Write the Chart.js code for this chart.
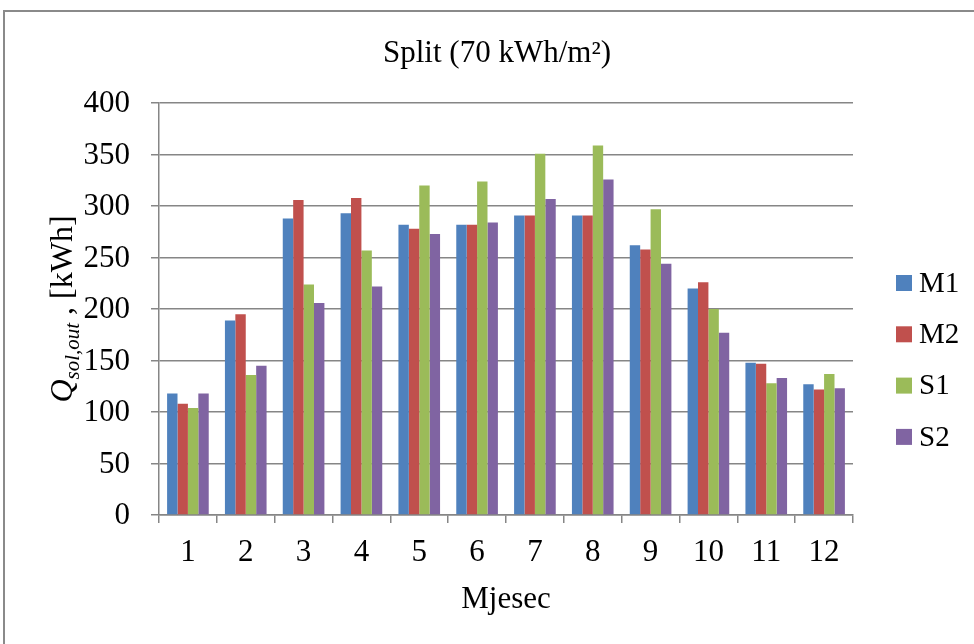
<!DOCTYPE html>
<html>
<head>
<meta charset="utf-8">
<title>Split (70 kWh/m²)</title>
<script src="https://cdn.jsdelivr.net/npm/chart.js@4.4.1/dist/chart.umd.min.js"></script>
<style>
  html, body { margin: 0; padding: 0; background: #fff; overflow: hidden; }
  #okvir { position: absolute; left: 3px; top: 10px; width: 1000px; height: 700px;
           border: 2px solid #8a8a8a; box-sizing: border-box; }
  #omot { position: absolute; left: 0; top: 0; width: 974px; height: 644px; }
</style>
</head>
<body>
<div id="okvir"></div>
<div id="omot"><canvas id="grafSplit"></canvas></div>
<script>
// mjeseci i vrijednosti Q_sol,out [kWh] očitane s grafa
const mjeseci = ['1', '2', '3', '4', '5', '6', '7', '8', '9', '10', '11', '12'];
const M1 = [118, 189, 288, 293, 282, 282, 291, 291, 262, 220, 148, 127];
const M2 = [108, 195, 306, 308, 278, 282, 291, 291, 258, 226, 147, 122];
const S1 = [104, 136, 224, 257, 320, 324, 351, 359, 297, 200, 128, 137];
const S2 = [118, 145, 206, 222, 273, 284, 307, 326, 244, 177, 133, 123];
const yOznake = [0, 50, 100, 150, 200, 250, 300, 350, 400];

const boje = ['#4F81BD', '#C0504D', '#9BBB59', '#8064A2'];
const SIVA = '#868686';
const SERIF = '"Liberation Serif", "Times New Roman", serif';

// naslov y osi s indeksom: Q_sol,out , [kWh]
const yNaslov = {
    id: 'yNaslov',
    afterDraw(chart) {
        const ctx = chart.ctx;
        const dijelovi = [
            { t: 'Q', font: 'italic 32px ' + SERIF, dy: 0 },
            { t: 'sol,out', font: 'italic 21px ' + SERIF, dy: 7 },
            { t: ' , [kWh]', font: '32px ' + SERIF, dy: 0 }
        ];
        ctx.save();
        let ukupno = 0;
        dijelovi.forEach(d => { ctx.font = d.font; d.w = ctx.measureText(d.t).width; ukupno += d.w; });
        ctx.translate(72, 309);
        ctx.rotate(-Math.PI / 2);
        ctx.fillStyle = '#000';
        ctx.textBaseline = 'alphabetic';
        let x = -ukupno / 2;
        dijelovi.forEach(d => { ctx.font = d.font; ctx.fillText(d.t, x, d.dy); x += d.w; });
        ctx.restore();
    }
};

// oznake y osi (crtamo ih sami jer je os uska zbog centriranja naslova)
const yBrojevi = {
    id: 'yBrojevi',
    afterDraw(chart) {
        const ctx = chart.ctx;
        const y = chart.scales.y;
        ctx.save();
        ctx.font = '31px ' + SERIF;
        ctx.fillStyle = '#000';
        ctx.textAlign = 'right';
        ctx.textBaseline = 'middle';
        yOznake.forEach(v => ctx.fillText(String(v), y.right - 29, y.getPixelForValue(v) + 1));
        ctx.restore();
    }
};

// legenda desno, kao u Excelu
const legenda = {
    id: 'legenda',
    afterDraw(chart) {
        const ctx = chart.ctx;
        ctx.save();
        ctx.font = '29px ' + SERIF;
        ctx.textBaseline = 'middle';
        chart.data.datasets.forEach((ds, i) => {
            const y = 283 + i * 51.3;
            ctx.fillStyle = ds.backgroundColor;
            ctx.fillRect(896, y - 8, 16, 16);
            ctx.fillStyle = '#000';
            ctx.fillText(ds.label, 919, y + 1);
        });
        ctx.restore();
    }
};

new Chart(document.getElementById('grafSplit'), {
    type: 'bar',
    data: {
        labels: mjeseci,
        datasets: [
            { label: 'M1', data: M1, backgroundColor: boje[0] },
            { label: 'M2', data: M2, backgroundColor: boje[1] },
            { label: 'S1', data: S1, backgroundColor: boje[2] },
            { label: 'S2', data: S2, backgroundColor: boje[3] }
        ]
    },
    options: {
        responsive: true,
        maintainAspectRatio: false,
        animation: false,
        layout: { padding: { left: 141, right: 121, top: 0, bottom: 0 } },
        datasets: { bar: { categoryPercentage: 0.72, barPercentage: 1.0, borderWidth: 0 } },
        plugins: {
            legend: { display: false },
            tooltip: { enabled: false },
            title: {
                display: true,
                text: 'Split (70 kWh/m²)',
                color: '#000',
                font: { family: SERIF, size: 31, weight: 'normal' },
                padding: { top: 35, bottom: 31 }
            }
        },
        scales: {
            x: {
                afterFit: s => { s.height = 129; },
                grid: { offset: true, drawOnChartArea: false, drawTicks: true, tickLength: 8,
                        color: SIVA, lineWidth: 1.5 },
                border: { display: true, color: SIVA, width: 1.5 },
                ticks: { color: '#000', padding: 11, font: { family: SERIF, size: 31 } },
                title: { display: true, text: 'Mjesec', color: '#000',
                         font: { family: SERIF, size: 31 }, padding: { top: 0, bottom: 26 } }
            },
            y: {
                min: yOznake[0],
                max: yOznake[yOznake.length - 1],
                afterFit: s => { s.width = 18; },
                grid: { drawTicks: true, tickLength: 8, color: SIVA, lineWidth: 1.5 },
                border: { display: true, color: SIVA, width: 1.5 },
                ticks: { stepSize: 50, display: false }
            }
        }
    },
    plugins: [yNaslov, yBrojevi, legenda]
});
</script>
</body>
</html>
